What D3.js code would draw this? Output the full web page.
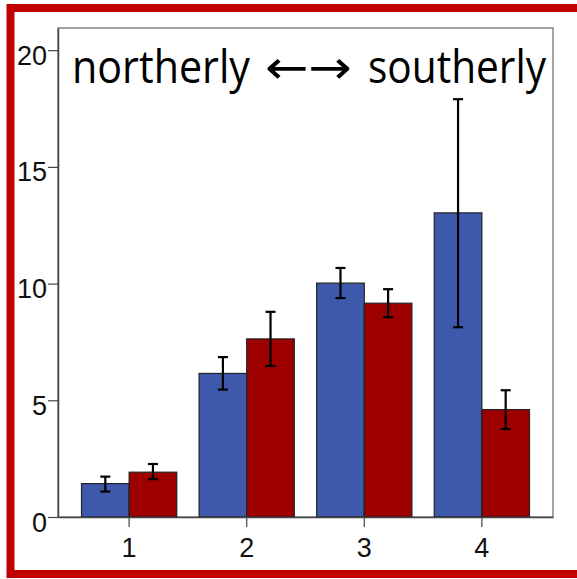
<!DOCTYPE html>
<head>
  <meta charset="utf-8">
  <script src="https://d3js.org/d3.v7.min.js"></script>
  <style>
    body { margin: 0; background: #fff; }
    .bar { stroke: #222; stroke-width: 1.2px; }
    .err { stroke: #000; stroke-width: 2.2px; }
    .title { font-family: "Open Sans", "Noto Sans", sans-serif; font-size: 46px; fill: #000; }
  </style>
</head>
<body>
  <div id="vis"></div>
  <script>

    var categories = ["1", "2", "3", "4"];
    var series = ["northerly", "southerly"];
    var meanNorth = [1.43, 6.15, 10.02, 13.03];
    var meanSouth = [1.92, 7.63, 9.16, 4.60];
    var lowNorth = [1.09, 5.46, 9.38, 8.13];
    var highNorth = [1.73, 6.85, 10.67, 17.9];
    var lowSouth = [1.62, 6.47, 8.56, 3.77];
    var highSouth = [2.27, 8.79, 9.76, 5.43];
    var yTicks = [0, 5, 10, 15, 20];
    var colors = ["#3e59ac", "#9e0000"];

    var width = 577, height = 579;
    var plot = { left: 58, right: 553, top: 28, bottom: 517 };

    var svg = d3.select("#vis").append("svg")
      .attr("width", width)
      .attr("height", height);

    // red frame round the slide
    svg.append("rect")
      .attr("x", 10.5).attr("y", 8)
      .attr("width", 600).attr("height", 566)
      .attr("fill", "none")
      .attr("stroke", "#c00000")
      .attr("stroke-width", 8);

    var x = d3.scaleBand()
      .domain(categories)
      .range([plot.left, plot.right])
      .paddingInner(0.19)
      .paddingOuter(0.2);

    var x1 = d3.scaleBand()
      .domain(series)
      .range([0, x.bandwidth()]);

    var y = d3.scaleLinear()
      .domain([0, 20.95])
      .range([plot.bottom, plot.top]);

    var rows = categories.map(function (c, i) {
      return [
        { cat: c, s: series[0], v: meanNorth[i], lo: lowNorth[i], hi: highNorth[i] },
        { cat: c, s: series[1], v: meanSouth[i], lo: lowSouth[i], hi: highSouth[i] }
      ];
    });
    var flat = [].concat.apply([], rows);

    // plot frame
    svg.append("rect")
      .attr("x", plot.left).attr("y", plot.top)
      .attr("width", plot.right - plot.left)
      .attr("height", plot.bottom - plot.top)
      .attr("fill", "#fff")
      .attr("stroke", "#666")
      .attr("stroke-width", 1.2);

    svg.selectAll(".bar")
      .data(flat)
      .enter().append("rect")
      .attr("class", "bar")
      .attr("x", function (d) { return x(d.cat) + x1(d.s); })
      .attr("y", function (d) { return y(d.v); })
      .attr("width", x1.bandwidth())
      .attr("height", function (d) { return y(0) - y(d.v); })
      .attr("fill", function (d) { return colors[series.indexOf(d.s)]; });

    var errs = svg.selectAll(".errg")
      .data(flat)
      .enter().append("g")
      .attr("class", "errg")
      .attr("transform", function (d) {
        return "translate(" + (x(d.cat) + x1(d.s) + x1.bandwidth() / 2) + ",0)";
      });
    errs.append("line").attr("class", "err")
      .attr("x1", 0).attr("x2", 0)
      .attr("y1", function (d) { return y(d.lo); })
      .attr("y2", function (d) { return y(d.hi); });
    errs.append("line").attr("class", "err")
      .attr("x1", -5).attr("x2", 5)
      .attr("y1", function (d) { return y(d.hi); })
      .attr("y2", function (d) { return y(d.hi); });
    errs.append("line").attr("class", "err")
      .attr("x1", -5).attr("x2", 5)
      .attr("y1", function (d) { return y(d.lo); })
      .attr("y2", function (d) { return y(d.lo); });

    var yAxis = svg.append("g")
      .attr("transform", "translate(" + plot.left + ",0)")
      .call(d3.axisLeft(y).tickValues(yTicks).tickSize(10).tickSizeOuter(0).tickPadding(1));
    yAxis.select(".domain").attr("stroke", "#444").attr("stroke-width", 1.5);
    yAxis.selectAll(".tick line").attr("stroke", "#444").attr("stroke-width", 1.2);
    yAxis.selectAll(".tick text").attr("dy", "0.52em");

    var xAxis = svg.append("g")
      .attr("transform", "translate(0," + plot.bottom + ")")
      .call(d3.axisBottom(x).tickSize(10).tickSizeOuter(0).tickPadding(11));
    xAxis.select(".domain").attr("stroke", "#444").attr("stroke-width", 1.5);
    xAxis.selectAll(".tick line").attr("stroke", "#444").attr("stroke-width", 1.2);

    svg.selectAll(".tick text")
      .style("font-family", "Arial, 'Liberation Sans', sans-serif")
      .style("font-size", "27px")
      .style("fill", "#111");

    // title in three pieces: word, arrows, word
    svg.append("text").attr("class", "title")
      .attr("x", 72).attr("y", 83)
      .attr("textLength", 178)
      .attr("lengthAdjust", "spacingAndGlyphs")
      .text(series[0]);
    svg.append("text").attr("class", "title")
      .attr("x", 265).attr("y", 83)
      .attr("textLength", 87)
      .attr("lengthAdjust", "spacingAndGlyphs")
      .style("font-family", "'DejaVu Sans', sans-serif")
      .text("\u2190\u2192");
    svg.append("text").attr("class", "title")
      .attr("x", 368).attr("y", 83)
      .attr("textLength", 178)
      .attr("lengthAdjust", "spacingAndGlyphs")
      .text(series[1]);

  </script>
</body>
